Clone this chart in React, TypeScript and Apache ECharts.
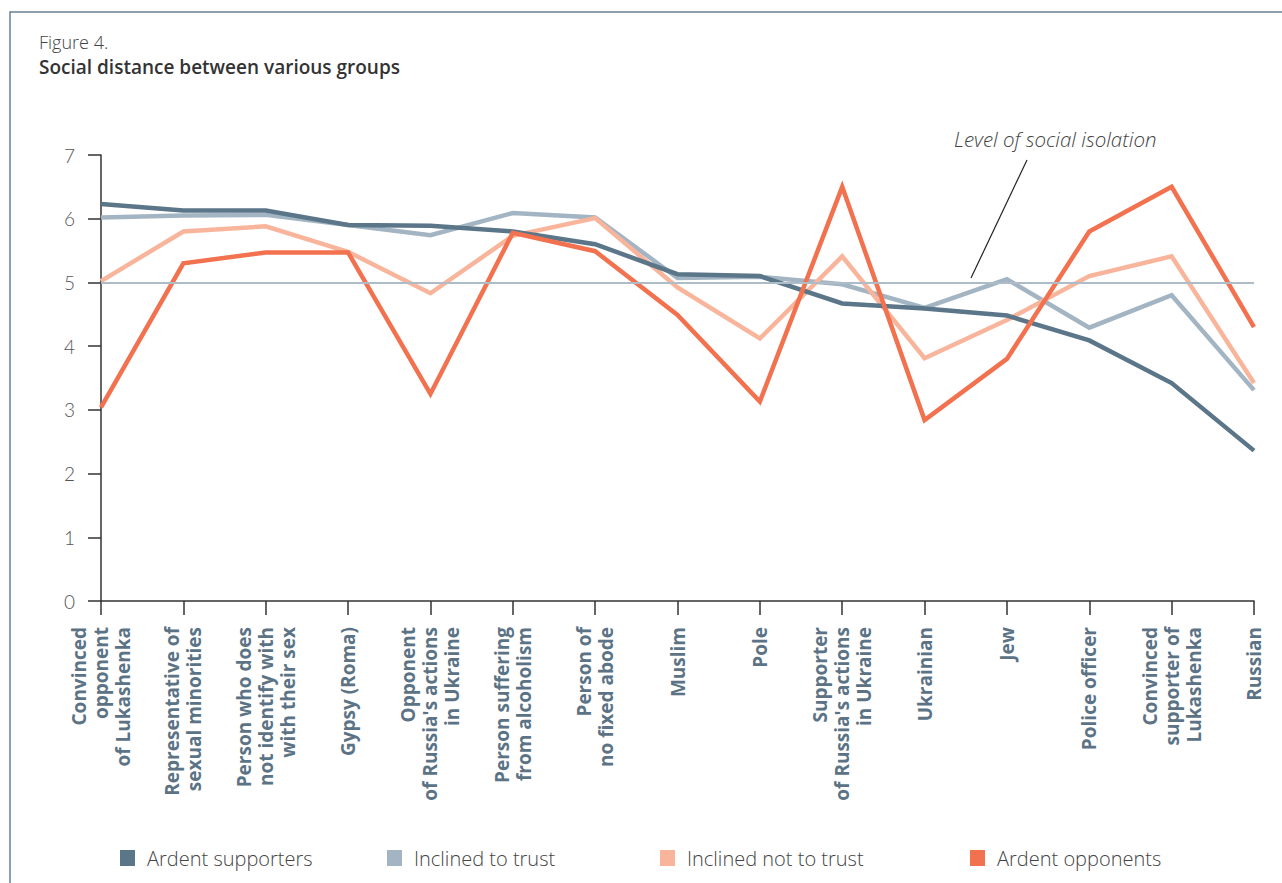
import React, { useEffect, useRef } from "react";
import * as echarts from "echarts";

const categories = [
  "Convinced\nopponent\nof Lukashenka",
  "Representative of\nsexual minorities",
  "Person who does\nnot identify with\nwith their sex",
  "Gypsy (Roma)",
  "Opponent\nof Russia's actions\nin Ukraine",
  "Person suffering\nfrom alcoholism",
  "Person of\nno fixed abode",
  "Muslim",
  "Pole",
  "Supporter\nof Russia's actions\nin Ukraine",
  "Ukrainian",
  "Jew",
  "Police officer",
  "Convinced\nsupporter of\nLukashenka",
  "Russian",
];

const ardentSupporters = [6.23, 6.13, 6.13, 5.9, 5.89, 5.8, 5.6, 5.13, 5.1, 4.67, 4.59, 4.48, 4.09, 3.42, 2.36];
const inclinedToTrust = [6.02, 6.05, 6.06, 5.9, 5.74, 6.09, 6.02, 5.07, 5.09, 4.97, 4.6, 5.05, 4.29, 4.8, 3.31];
const inclinedNotToTrust = [5.02, 5.8, 5.88, 5.48, 4.83, 5.73, 6.01, 4.92, 4.12, 5.41, 3.81, 4.41, 5.1, 5.41, 3.42];
const ardentOpponents = [3.04, 5.3, 5.47, 5.47, 3.25, 5.78, 5.49, 4.49, 3.13, 6.5, 2.84, 3.8, 5.8, 6.5, 4.3];

const isolationLevel = 5;
const yTicks = [0, 1, 2, 3, 4, 5, 6, 7];

const seriesNames = ["Ardent supporters", "Inclined to trust", "Inclined not to trust", "Ardent opponents"];
const colors = ["#5b7589", "#a3b5c3", "#f9b59b", "#f2714f"];

export default function App() {
  const ref = useRef<HTMLDivElement>(null);
  useEffect(() => {
    if (!ref.current) return;
    const chart = echarts.init(ref.current, null, { renderer: "svg" });
    const lineSeries = (i: number, data: number[], extra: any = {}) => ({
      name: seriesNames[i],
      type: "line",
      data,
      symbol: "none",
      lineStyle: { color: colors[i], width: 4.5, join: "miter" },
      itemStyle: { color: colors[i] },
      ...extra,
    });
    const legendLefts = [115, 382, 655, 965];
    chart.setOption({
      animation: false,
      backgroundColor: "#ffffff",
      textStyle: { fontFamily: "Open Sans" },
      grid: { left: 101, right: 28, top: 155, bottom: 282, containLabel: false },
      xAxis: {
        type: "category",
        data: categories,
        boundaryGap: false,
        axisLine: { lineStyle: { color: "#333333", width: 1.5 } },
        axisTick: { show: true, length: 14, lineStyle: { color: "#333333", width: 1.5 } },
        axisLabel: {
          interval: 0,
          rotate: 90,
          margin: 26,
          color: "#5b7385",
          fontFamily: "Open Sans",
          fontWeight: 700,
          fontSize: 19,
          lineHeight: 22,
        },
        splitLine: { show: false },
      },
      yAxis: {
        type: "value",
        min: yTicks[0],
        max: yTicks[yTicks.length - 1],
        interval: 1,
        axisLine: { show: true, lineStyle: { color: "#333333", width: 1.5 } },
        axisTick: { show: true, length: 13, lineStyle: { color: "#333333", width: 1.5 } },
        axisLabel: { margin: 26, color: "#555555", fontFamily: "Lato", fontWeight: 300, fontSize: 19 },
        splitLine: { show: false },
      },
      legend: seriesNames.map((n, i) => ({
        data: [n],
        left: legendLefts[i],
        top: 843,
        icon: "rect",
        itemWidth: 15,
        itemHeight: 16,
        itemGap: 0,
        textStyle: { color: "#444444", fontFamily: "Open Sans", fontWeight: 300, fontSize: 20, padding: [0, 0, 0, 7] },
        selectedMode: false,
      })),
      series: [
        lineSeries(1, inclinedToTrust, {
          markLine: {
            silent: true,
            symbol: "none",
            label: { show: false },
            lineStyle: { color: "#aebcc8", width: 2, type: "solid" },
            data: [{ yAxis: isolationLevel }],
          },
        }),
        lineSeries(2, inclinedNotToTrust),
        lineSeries(0, ardentSupporters),
        lineSeries(3, ardentOpponents),
      ],
      graphic: [
        {
          type: "rect",
          shape: { x: 10, y: 12, width: 1400, height: 1000 },
          style: { fill: "none", stroke: "#6a8194", lineWidth: 1.5 },
          silent: true,
        },
        {
          type: "text",
          left: 39,
          top: 33,
          style: { text: "Figure 4.", fill: "#444444", fontFamily: "Open Sans", fontWeight: 300, fontSize: 18 },
        },
        {
          type: "text",
          left: 39,
          top: 57,
          style: {
            text: "Social distance between various groups",
            fill: "#333333",
            fontFamily: "Open Sans",
            fontWeight: 600,
            fontSize: 19,
          },
        },
        {
          type: "text",
          left: 954,
          top: 129,
          style: {
            text: "Level of social isolation",
            fill: "#444444",
            fontFamily: "Open Sans",
            fontStyle: "italic",
            fontWeight: 300,
            fontSize: 20.5,
          },
        },
        {
          type: "line",
          shape: { x1: 1027, y1: 160, x2: 971, y2: 278 },
          style: { stroke: "#222222", lineWidth: 1.2 },
          silent: true,
        },
      ],
    });
    return () => chart.dispose();
  }, []);
  return (
    <div
      ref={ref}
      style={{ position: "absolute", left: 0, top: 0, width: 1282, height: 883, background: "#fff" }}
    />
  );
}
